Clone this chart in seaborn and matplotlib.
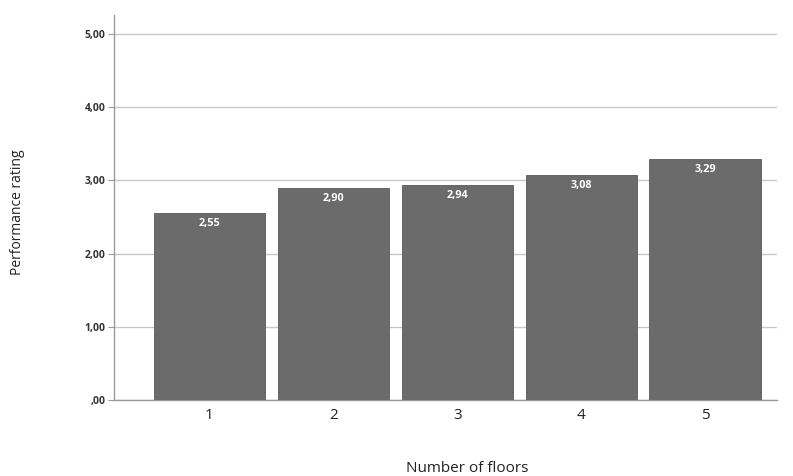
import matplotlib
matplotlib.use("Agg")
import matplotlib.pyplot as plt
import seaborn as sns
import pandas as pd

floors = ["1", "2", "3", "4", "5"]
ratings = [2.55, 2.90, 2.94, 3.08, 3.29]
ytick_vals = [0, 1, 2, 3, 4, 5]
ytick_labels = [",00", "1,00", "2,00", "3,00", "4,00", "5,00"]

sns.set_theme(style="white")
plt.rcParams['font.family'] = ['Open Sans', 'DejaVu Sans']

df = pd.DataFrame({"floors": floors, "rating": ratings})

fig = plt.figure(figsize=(7.93, 4.76), dpi=100)
ax = fig.add_axes([0.1438, 0.1597, 0.98 - 0.1438, 0.9685 - 0.1597])
sns.barplot(data=df, x="floors", y="rating", color="#6b6b6b", saturation=1,
            width=0.9, ax=ax, zorder=3)
for p in ax.patches:
    p.set_edgecolor("#5a5a5a")
    p.set_linewidth(0.6)

ax.set_ylim(0, 5.26)
ax.set_xlim(-0.77, 4.58)
ax.set_yticks(ytick_vals)
ax.set_yticklabels(ytick_labels, fontsize=7.5, fontweight="bold", color="#333333")
ax.tick_params(axis="y", length=4, width=0.8, color="#999999", pad=2, left=True)
ax.tick_params(axis="x", length=0, labelsize=11, pad=6, labelcolor="#222222")
ax.yaxis.grid(True, color="#c8c8c8", linewidth=1.0, zorder=0)
ax.set_axisbelow(True)
for s in ["top", "right"]:
    ax.spines[s].set_visible(False)
for s in ["left", "bottom"]:
    ax.spines[s].set_color("#999999")
    ax.spines[s].set_linewidth(1.0)
ax.set_xlabel("")
ax.set_ylabel("")

for i, v in enumerate(ratings):
    ax.text(i, v - 0.07, f"{v:.2f}".replace(".", ","), ha="center", va="top",
            color="white", fontsize=7.8, fontweight="bold", zorder=4)

fig.text(467 / 793, 1 - 468 / 476, "Number of floors", ha="center", va="center",
         fontsize=11, color="#222222")
fig.text(18 / 793, 1 - 212 / 476, "Performance rating", ha="center", va="center",
         rotation=90, fontsize=10, color="#222222")

fig.savefig("out.png", dpi=100)
